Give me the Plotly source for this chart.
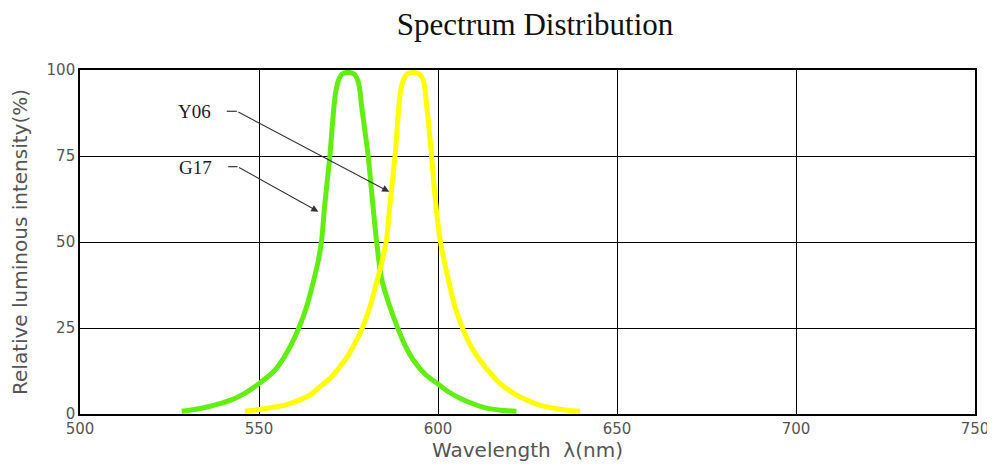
import plotly.graph_objects as go

# G17 (green) spectrum
g17_wavelength = [528.4, 532.0, 535.8, 539.0, 542.3, 546.0, 550.1, 554.5, 558.2, 561.2,
                  563.3, 565.2, 566.6, 567.5, 568.3, 569.1, 569.8, 570.5, 571.0, 571.5,
                  572.2, 573.2, 574.9, 576.6, 577.6, 578.2, 578.6, 579.5, 580.5, 581.6,
                  582.8, 584.2, 586.3, 588.9, 591.0, 593.1, 596.5, 600.0, 603.0, 606.1,
                  610.0, 613.6, 617.5, 621.9]
g17_intensity = [0.8, 1.3, 2.1, 3.0, 4.1, 6.0, 8.9, 12.8, 18.6, 25.2,
                 31.2, 38.5, 44.8, 50.6, 60.0, 68.0, 75.0, 84.0, 90.0, 94.0,
                 97.0, 98.8, 99.3, 98.8, 97.0, 94.0, 90.0, 83.0, 75.0, 63.0,
                 50.6, 39.5, 32.0, 24.6, 19.5, 15.7, 11.5, 8.7, 6.4, 4.6,
                 2.9, 1.7, 1.1, 0.8]

# Y06 (yellow) spectrum
y06_wavelength = [546.1, 550.1, 553.5, 557.3, 561.5, 564.5, 567.0, 570.0, 572.6, 574.6,
                  576.3, 578.7, 581.0, 583.3, 584.6, 585.6, 586.5, 587.3, 588.0, 588.6,
                  589.1, 589.6, 590.3, 591.4, 593.1, 594.8, 595.9, 596.4, 596.8, 597.5,
                  598.2, 599.2, 600.6, 602.9, 604.8, 607.0, 609.3, 611.7, 614.5, 617.3,
                  621.0, 624.7, 628.4, 632.1, 636.0, 639.7]
y06_intensity = [0.8, 1.3, 1.9, 2.6, 4.1, 5.7, 7.9, 10.5, 13.7, 16.5,
                 19.6, 24.6, 31.2, 39.9, 45.5, 50.6, 60.0, 68.0, 75.0, 83.0,
                 90.0, 94.0, 97.0, 98.8, 99.3, 98.8, 97.0, 94.0, 90.0, 83.0,
                 75.0, 63.0, 50.6, 39.0, 31.0, 24.6, 19.5, 15.7, 12.0, 8.9,
                 6.1, 4.1, 2.6, 1.7, 1.1, 0.8]

x_ticks = [500, 550, 600, 650, 700, 750]
y_ticks = [0, 25, 50, 75, 100]

fig = go.Figure()
fig.add_trace(go.Scatter(x=g17_wavelength, y=g17_intensity, mode="lines", name="G17",
                         line=dict(color="#62EE12", width=5, shape="spline", smoothing=0.8)))
fig.add_trace(go.Scatter(x=y06_wavelength, y=y06_intensity, mode="lines", name="Y06",
                         line=dict(color="#FFFF00", width=5, shape="spline", smoothing=0.8)))

lead_color = "#333333"
labels = [
    dict(text="Y06", tx=532.1, ty=87.9, sx=541.0, ex=543.8, ly=88.0, hx=586.4, hy=64.6),
    dict(text="G17", tx=532.4, ty=71.7, sx=541.4, ex=544.0, ly=71.9, hx=566.6, hy=58.8),
]
for lb in labels:
    fig.add_annotation(x=lb["tx"], y=lb["ty"], text=lb["text"], showarrow=False,
                       font=dict(family="Liberation Serif", size=19, color="#1a1a2a"))
    fig.add_shape(type="line", x0=lb["sx"], x1=lb["ex"], y0=lb["ly"], y1=lb["ly"],
                  line=dict(color=lead_color, width=1.2))
    fig.add_annotation(x=lb["hx"], y=lb["hy"], ax=lb["ex"], ay=lb["ly"], axref="x", ayref="y",
                       text="", showarrow=True, arrowhead=2, arrowsize=1.3, arrowwidth=1.1,
                       arrowcolor=lead_color, standoff=0)

tick_font = dict(family="DejaVu Sans", size=15, color="#555555")
title_font = dict(family="DejaVu Sans", size=20, color="#555555")
fig.update_layout(
    width=987, height=460,
    margin=dict(l=72, r=20, t=62, b=54),
    paper_bgcolor="white", plot_bgcolor="white",
    showlegend=False,
    title=dict(text="Spectrum Distribution", x=0.534, xanchor="center", y=0.965, yanchor="middle",
               font=dict(family="Liberation Serif", size=31, color="#111111")),
    xaxis=dict(range=[500, 750], tickvals=x_ticks, ticktext=[str(v) for v in x_ticks],
               showgrid=True, gridcolor="black", gridwidth=1.4, zeroline=False,
               showline=True, linecolor="black", linewidth=1.6, mirror=True,
               ticks="", tickfont=tick_font, automargin=False,
               title=dict(text="Wavelength  λ(nm)", standoff=5, font=title_font)),
    yaxis=dict(range=[0, 100], tickvals=y_ticks, ticktext=[str(v) for v in y_ticks],
               showgrid=True, gridcolor="black", gridwidth=1.4, zeroline=False,
               showline=True, linecolor="black", linewidth=1.6, mirror=True,
               ticks="", tickfont=tick_font, automargin=False,
               title=dict(text="Relative luminous intensity(%)", standoff=16, font=title_font)),
)

fig.write_html("out.html")
